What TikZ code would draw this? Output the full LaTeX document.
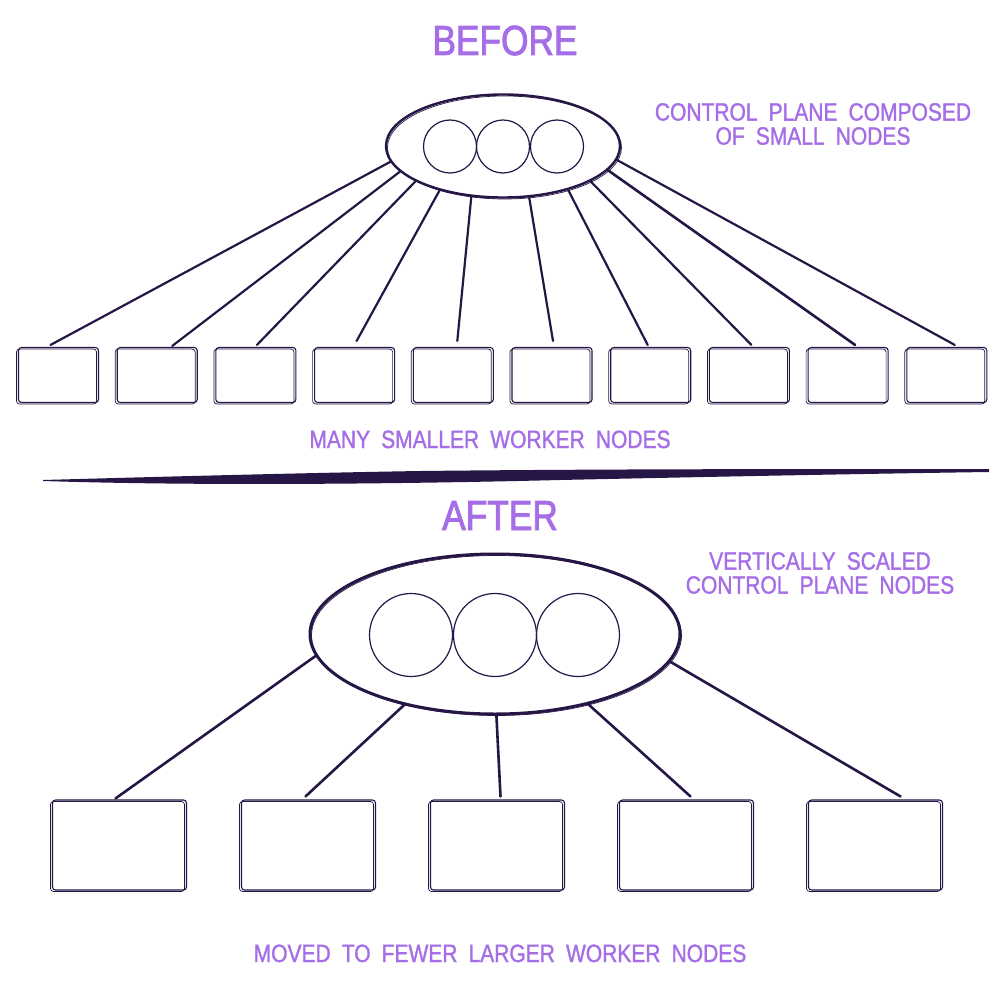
\documentclass[tikz,border=0pt]{standalone}
\usepackage{fontspec}
\newfontfamily\handfont[FakeStretch=0.84,WordSpace=1.9,FakeBold=1.2]{Liberation Sans}
\newfontfamily\titlefont[FakeStretch=0.84,FakeBold=2]{Liberation Sans}
\usetikzlibrary{shapes.geometric}
\definecolor{ink}{RGB}{38,22,70}
\definecolor{lav}{RGB}{165,110,230}
\begin{document}
\begin{tikzpicture}[x=1pt,y=-1pt,
  lbl/.style={text=lav, font=\handfont\fontsize{25}{24}\selectfont, align=center, inner sep=0pt},
  ttl/.style={text=lav, font=\titlefont\fontsize{42}{42}\selectfont, inner sep=0pt, anchor=base},
  ctrl/.style={ellipse, draw=ink, inner sep=0pt, postaction={draw=ink, line width=0.7pt, transform canvas={shift={(1.5,1.5)}}}},
  cp/.style={circle, draw=ink, line width=1.2pt, inner sep=0pt},
  wk/.style={draw=ink, line width=1.1pt, rounded corners=3pt, inner sep=0pt, postaction={draw=ink, line width=0.7pt, transform canvas={shift={(-2,1.5)}}}},
  link/.style={draw=ink, line cap=round},
]
\fill[white] (0,0) rectangle (1000,1000);
\useasboundingbox (0,0) rectangle (1000,1000);

% ---------- BEFORE ----------
\node[ttl] (tBefore) at (505,55) {BEFORE};
\node[lbl] (nBefore) at (813,124) {CONTROL PLANE COMPOSED\\OF SMALL NODES};

\node[ctrl, line width=2.4pt, minimum width=234, minimum height=103] (ctrlA) at (503,146) {};
\node[cp, minimum size=53] (a1) at (450,146.5) {};
\node[cp, minimum size=53] (a2) at (503,146.5) {};
\node[cp, minimum size=53] (a3) at (557,146.5) {};

\foreach \i in {1,...,10}{
  \node[wk, minimum width=80, minimum height=55] (w\i) at ({58.5+98.7*(\i-1)},375) {};
}

\draw[link, line width=2.2pt] (ctrlA.188) -- ([shift={(-8,-2)}]w1.north);
\draw[link, line width=2.2pt] (ctrlA.194) -- ([shift={(15,-1)}]w2.north);
\draw[link, line width=2.2pt] (ctrlA.202) -- ([shift={(1,-2)}]w3.north);
\draw[link, line width=2.2pt] (ctrlA.215) -- ([shift={(2,-6)}]w4.north);
\draw[link, line width=2.2pt] (ctrlA.238) -- ([shift={(4,-6)}]w5.north);
\draw[link, line width=2.2pt] (ctrlA.297) -- ([shift={(1,-6)}]w6.north);
\draw[link, line width=2.2pt] (ctrlA.326) -- ([shift={(-3,-2)}]w7.north);
\draw[link, line width=2.2pt] (ctrlA.338) -- ([shift={(2,-2)}]w8.north);
\draw[link, line width=2.6pt] (ctrlA.347) -- ([shift={(7,-2)}]w9.north);
\draw[link, line width=2.2pt] (ctrlA.353) -- ([shift={(8,-2)}]w10.north);

\node[lbl, anchor=base] (nMany) at (490,448) {MANY SMALLER WORKER NODES};

% ---------- divider ----------
\fill[ink] (43,480) .. controls (150,477) and (300,473) .. (420,471)
  .. controls (600,469) and (800,469) .. (989,469) -- (989,472)
  .. controls (850,474) and (700,477) .. (560,480)
  .. controls (400,484) and (200,486) .. (43,481) -- cycle;

% ---------- AFTER ----------
\node[ttl] (tAfter) at (500,530) {AFTER};
\node[lbl] (nAfter) at (820,573) {VERTICALLY SCALED\\CONTROL PLANE NODES};

\node[ctrl, line width=3pt, minimum width=370, minimum height=160] (ctrlB) at (495,634) {};
\node[cp, minimum size=83] (b1) at (411,635) {};
\node[cp, minimum size=83] (b2) at (495,635) {};
\node[cp, minimum size=83] (b3) at (578,635) {};

\foreach \i in {1,...,5}{
  \node[wk, minimum width=134, minimum height=90] (v\i) at ({119.5+189*(\i-1)},845) {};
}

\draw[link, line width=2.6pt] (ctrlB.187) -- ([shift={(-4,-1)}]v1.north);
\draw[link, line width=2.6pt] (ctrlB.218) -- ([shift={(-3,-3)}]v2.north);
\draw[link, line width=2.6pt] (ctrlB.271) -- ([shift={(3,-3)}]v3.north);
\draw[link, line width=2.6pt] (ctrlB.323) -- ([shift={(4,-3)}]v4.north);
\draw[link, line width=2.6pt] (ctrlB.351) -- ([shift={(25,-3)}]v5.north);

\node[lbl, anchor=base] (nMoved) at (500,962) {MOVED TO FEWER LARGER WORKER NODES};
\end{tikzpicture}
\end{document}
